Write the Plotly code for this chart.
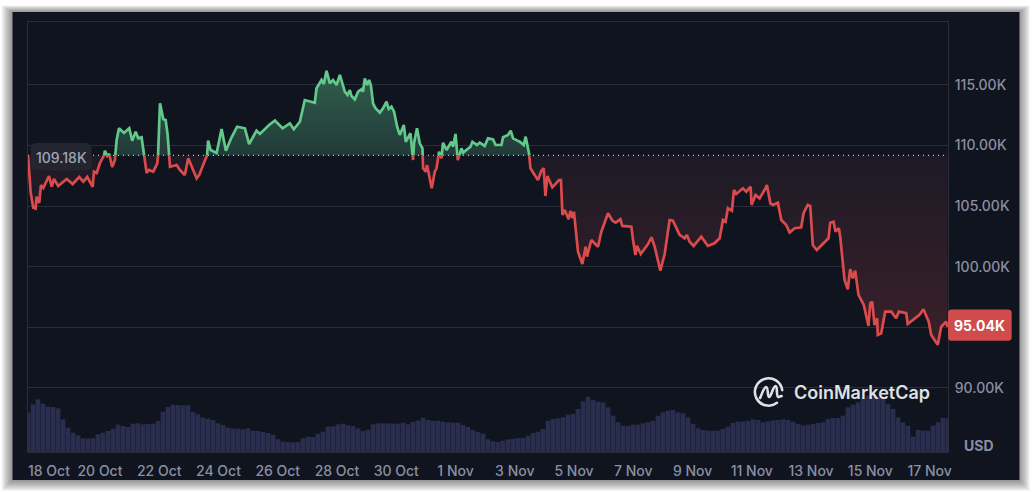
import base64
import pandas as pd
import plotly.graph_objects as go

# ---------- data ----------
start_time = "2025-10-17 13:42"
base_price = 109.18
last_price = 95.04
price_hours = [0,2.2,4.3,6.2,7,9.1,10.5,12.4,17,19.2,21,24.5,31.3,36.2,41.5,44.8,48,52.4,53.4,55.6,58.3,61.5,62.3,64.2,65.8,68.2,70.4,71.8,73.7,77.7,82,84.4,87.2,89.3,92,96.1,98,101.4,104.7,105.2,106.9,109.6,111.5,113.1,115,120.4,123,127,129.8,136.6,138.7,142.5,145.1,145.9,147.9,152.8,156.8,160.3,164.9,169.4,175.7,179.1,185.1,187.8,195.3,200,206.2,212.1,215.3,220.2,224.2,232.3,233.7,237.8,239.6,241.8,244.5,247.1,249.9,252.6,254.4,256.6,258.8,260.7,262,264.7,267.4,270.2,271.4,272.8,274.7,276.3,277.7,279.5,281.5,285,287.6,290.4,292.2,294.4,296.5,299,301.1,304.4,306,309.8,311.9,312.7,315.1,317.3,319.5,320,322.2,323.2,327,329.5,330.9,333,334.9,336.2,339,343,344.3,346.3,348.1,351.1,352.4,358.4,360,363.7,365.9,369.9,372.6,376.7,378.8,383.5,384.8,388.8,391,392.9,396.4,398.3,401.5,403.1,405.8,407,410.4,413.1,415.8,417.7,419.1,420.7,424.7,430.1,431.7,432.9,434.7,437.9,439.3,441.2,442.2,445.5,449,451.7,452.8,456.3,461.7,464.4,469.8,473.3,476,479.8,481.4,488.7,490.1,492,493.3,496.3,502.2,505,507.6,512.2,515.7,519.7,522.4,527.8,531.9,533.7,535.9,539.1,545.4,550.7,556.1,560.2,562.9,565,566.9,570.2,571.8,573.7,579.1,581.8,585.3,586.1,589.3,592.6,597.4,598.5,601.3,603.4,607.4,610.2,614.2,616.9,621,626.3,628.2,631.6,633.6,635.7,638.9,646.5,648.4,649.8,652.5,654.1,656.8,657.9,661.4,664,666,668.1,670,672.7,677,680.8,682.2,683.8,685.7,687.8,688.3,691.1,694.3,699.2,703.2,705.4,711.3,712.6,716.7,722.1,725.3,729.6,731.6,736.9,739.7,743.7,744.8]
price_k = [109.18,106.08,104.87,104.79,105.78,105.26,106.74,106.49,107.48,106.6,107.24,106.66,107.24,106.82,107.4,107.01,107.4,106.58,107.84,107.73,108.56,109.13,109.57,109.13,109.3,108.23,108.8,110.45,111.42,111.03,111.42,110.4,111.14,110.59,110.68,107.73,107.98,107.84,108.53,108.8,113.48,112.16,112.1,110.87,108.25,108.39,107.98,107.57,108.94,107.29,107.57,108.56,109.22,110.4,109.63,109.38,111.36,109.57,110.68,111.55,111.42,110.12,111.22,110.95,111.69,112.05,111.42,111.83,111.34,111.96,113.75,113.53,114.72,115.4,115.07,116.17,115.13,115.4,114.99,115.82,115.13,114.44,114.17,114.58,114.08,113.81,114.44,114.64,114.44,115.54,114.99,115.4,114.99,113.48,113.07,112.71,113.07,113.61,113.01,113.2,112.79,111.55,110.87,111.69,110.31,111.01,108.8,110.21,111.42,110.18,109.77,108.12,107.84,108.39,106.47,107.84,108.12,109.49,108.94,110.23,109.63,110.31,109.9,110.95,108.8,109.77,109.41,109.9,110.31,110.04,110.23,109.96,110.59,110.51,110.04,110.04,110.68,110.87,111.22,110.59,110.4,110.31,110.04,110.73,109.36,108.12,107.57,107.15,107.92,108.12,105.83,107.48,106.55,107.15,107.15,104.27,104.68,103.91,104.6,104.02,104.54,101.24,100.22,101.65,100.83,102.2,101.65,102.89,104.41,103.8,103.63,103.91,103.36,103.3,102.2,100.97,101.73,101.05,101.87,102.43,101.65,99.67,101.05,103.85,103.8,102.62,102.34,102.62,102.06,101.71,102.48,101.71,101.93,102.34,103.85,103.71,104.82,104.62,106.33,106,106.47,106.19,106.6,105.09,105.92,105.64,106.47,106.74,105.23,105.09,105.28,103.85,103.44,102.81,103.17,103.25,104.41,105.09,105.01,101.79,101.38,102.2,102.34,103.63,103.71,102.89,103.17,102.48,98.9,98.14,99.79,99.04,99.67,97.67,96.84,95.11,96.98,97.11,95.19,95.74,94.37,94.51,96.29,96.29,95.74,96.29,96.16,95.27,95.6,96.02,96.49,95.46,94.37,93.55,95.05,95.46,95.04]
volume = [59,71.5,79,72.5,68,67.5,65.5,49,36.5,29,25,20.5,20,20.5,26.5,29,31.5,35,41,39,37.5,42.5,43,41.5,42,42.5,46.5,60.5,67.5,71,70.5,70,70,60,56.5,51.5,50,48,43,40.5,36.5,35,35,34,35.5,31.5,31.5,30,28.5,25.5,19,15.5,15,14.5,15,20.5,22.5,22.5,27.5,30.5,38,38.5,41.5,42.5,40,39,35.5,31.5,33.5,41.5,43,43,43,42.5,42.5,44,41.5,45,47,51.5,48,46.5,47,45.5,44.5,44,44,40.5,37.5,33,30,27.5,19,16,15,17,19,20,
          21,21,24.5,28.5,30.5,34.5,47,49.5,50.5,52,56,57,64.5,76,83,78,75.5,74.5,67,54.5,44.5,39.5,39,41,41,43,44.5,47,54.5,59.5,62,63,59.5,58,52,42,35.5,33,32,32,32,34.5,38,43.5,45.5,46,47,49,48,44.5,46,47.5,48,49,48,45.5,42,40,41,42,43.5,44.5,49.5,51,51,54.5,67,71,74.5,81,84.5,83,83,79.5,72,64.5,52,44.5,39.5,23,33,32,32,39.5,44.5,51,51]
x_tick_dates = ["2025-10-18 06:40","2025-10-20","2025-10-22","2025-10-24","2025-10-26","2025-10-28","2025-10-30","2025-11-01","2025-11-03","2025-11-05","2025-11-07","2025-11-09","2025-11-11","2025-11-13","2025-11-15","2025-11-17"]
x_tick_labels = ["18 Oct","20 Oct","22 Oct","24 Oct","26 Oct","28 Oct","30 Oct","1 Nov","3 Nov","5 Nov","7 Nov","9 Nov","11 Nov","13 Nov","15 Nov","17 Nov"]
y_tick_vals = [90,95,100,105,110,115]
y_tick_labels = ["90.00K","","100.00K","105.00K","110.00K","115.00K"]

# ---------- styling ----------
W, H = 1032, 493
L, R, T, B = 27.5, 84, 22, 41
PANEL = "#10141f"
GRID = "#292d39"
TICK = "#8a8fa3"
GREEN = "#62c98b"
RED = "#db4b4d"
FONT = "Inter"

def X(px):
    return (px - L) / (W - L - R)

def Y(py):
    return 1 - (py - T) / (H - T - B)

def round_rect(x0, y0, x1, y1, r):
    a, b, c, d = X(x0), Y(y0), X(x1), Y(y1)
    rx, ry = r / (W - L - R), r / (H - T - B)
    return (f"M{a+rx},{b} L{c-rx},{b} Q{c},{b} {c},{b-ry} L{c},{d+ry} Q{c},{d} {c-rx},{d} "
            f"L{a+rx},{d} Q{a},{d} {a},{d+ry} L{a},{b-ry} Q{a},{b} {a+rx},{b} Z")

# split the price line where it crosses the opening price
t0 = pd.Timestamp(start_time)
hours, prices = [price_hours[0]], [price_k[0]]
for i in range(1, len(price_k)):
    p0, p1 = price_k[i - 1], price_k[i]
    h0, h1 = price_hours[i - 1], price_hours[i]
    if (p0 - base_price) * (p1 - base_price) < 0:
        hours.append(h0 + (base_price - p0) / (p1 - p0) * (h1 - h0))
        prices.append(base_price)
    hours.append(h1)
    prices.append(p1)
times = [t0 + pd.Timedelta(hours=h) for h in hours]
up_line = [p if p >= base_price else None for p in prices]
down_line = [p if p <= base_price else None for p in prices]
up_fill = [max(p, base_price) for p in prices]
down_fill = [min(p, base_price) for p in prices]
base_line = [base_price] * len(times)
vol_times = pd.date_range(t0, periods=len(volume), freq="243min")

fig = go.Figure()
fig.add_trace(go.Bar(x=vol_times, y=volume, yaxis="y2", marker=dict(color="#292d4e", line=dict(width=0)), hoverinfo="skip"))
for fill, scale, s0, s1 in [
    (up_fill, [[0, "#315f4b"], [1, "#213a39"]], 116.2, base_price),
    (down_fill, [[0, "#1d1a26"], [1, "#3a2029"]], base_price, 93.5),
]:
    fig.add_trace(go.Scatter(x=times, y=base_line, mode="lines", line=dict(width=0, color="rgba(0,0,0,0)"), hoverinfo="skip"))
    fig.add_trace(go.Scatter(x=times, y=fill, mode="lines", line=dict(width=0, color="rgba(0,0,0,0)"), fill="tonexty",
                             fillgradient=dict(type="vertical", colorscale=scale, start=s0, stop=s1), hoverinfo="skip"))
fig.add_trace(go.Scatter(x=[times[0], times[-1]], y=[base_price, base_price], mode="lines",
                         line=dict(color="#c3c6cf", width=1.2, dash="1px,4px"), hoverinfo="skip"))
fig.add_trace(go.Scatter(x=times, y=up_line, mode="lines", line=dict(color=GREEN, width=2.7), connectgaps=False))
fig.add_trace(go.Scatter(x=times, y=down_line, mode="lines", line=dict(color=RED, width=2.7), connectgaps=False))

# panel, its soft shadow, and the two price pills
shapes = []
for k in range(11, 0, -1):
    shapes.append(dict(type="rect", xref="paper", yref="paper", layer="below", line_width=0,
                       x0=X(12 - k), x1=X(1019 + k), y0=Y(12 - k * 0.6), y1=Y(480 + k),
                       fillcolor="rgba(0,0,0,0.045)"))
shapes.append(dict(type="rect", xref="paper", yref="paper", layer="below", line_width=0,
                   x0=X(12), x1=X(1019.5), y0=Y(12), y1=Y(480), fillcolor=PANEL))
shapes.append(dict(type="path", xref="paper", yref="paper", layer="above", line_width=0,
                   path=round_rect(30, 143, 91, 170.5, 6), fillcolor="#23252f"))
shapes.append(dict(type="path", xref="paper", yref="paper", layer="above", line_width=0,
                   path=round_rect(948, 309.5, 1011.7, 340.7, 3.5), fillcolor="#d04b4b"))

annotations = [
    dict(text="109.18K", x=X(61), y=Y(157), font=dict(size=14, color="#a0a5b5", family=FONT, weight=500)),
    dict(text=f"{last_price:.2f}K", x=X(980), y=Y(325.5), font=dict(size=14, color="#ffffff", family=FONT, weight=700)),
    dict(text="USD", x=X(979), y=Y(445.5), font=dict(size=14, color=TICK, family=FONT, weight=700)),
    dict(text="CoinMarketCap", x=X(792.5), y=Y(392.5), xanchor="left",
         font=dict(size=18, color="#dfe1e7", family=FONT, weight=600)),
]
for a in annotations:
    a.update(xref="paper", yref="paper", showarrow=False, borderpad=0, yanchor="middle")
    a.setdefault("xanchor", "center")

logo_svg = ('<svg xmlns="http://www.w3.org/2000/svg" width="32" height="32" viewBox="0 0 32 32">'
            '<g fill="none" stroke="#dfe1e7" stroke-width="2.6" stroke-linecap="round" stroke-linejoin="round">'
            '<path d="M29.6 14.2 A13.7 13.7 0 1 0 24.4 26.8"/>'
            '<path d="M7.5 22 C10 16 11.5 11 13.5 11 C16 11 14.5 21 16.5 21 C18.5 21 20.5 10 23 10 C25.5 10 23 21 26 21 L29 20"/>'
            '</g></svg>')
logo = "data:image/svg+xml;base64," + base64.b64encode(logo_svg.encode()).decode()

fig.update_layout(
    width=W, height=H, autosize=False,
    margin=dict(l=L, r=R, t=T, b=B, pad=0),
    paper_bgcolor="#ffffff", plot_bgcolor="rgba(0,0,0,0)",
    showlegend=False, bargap=0.06,
    font=dict(family=FONT, color=TICK, size=14),
    shapes=shapes, annotations=annotations,
    images=[dict(source=logo, xref="paper", yref="paper", x=X(752.5), y=Y(376), sizex=32 / (W - L - R), sizey=32 / (H - T - B),
                 xanchor="left", yanchor="top", sizing="stretch", layer="above")],
    xaxis=dict(type="date", range=[t0, t0 + pd.Timedelta(hours=745.2)], tickmode="array", tickvals=x_tick_dates,
               ticktext=x_tick_labels, showgrid=False, zeroline=False, showline=True, mirror=True, linecolor=GRID, linewidth=1,
               ticks="outside", ticklen=6, tickcolor="rgba(0,0,0,0)",
               tickfont=dict(size=14, color=TICK, family=FONT, weight=500)),
    yaxis=dict(side="right", range=[84.71, 120.19], tickmode="array", tickvals=y_tick_vals, ticktext=y_tick_labels,
               showgrid=True, gridcolor=GRID, gridwidth=1, zeroline=False, showline=True, mirror=True, linecolor=GRID, linewidth=1,
               ticks="outside", ticklen=3, tickcolor="rgba(0,0,0,0)",
               tickfont=dict(size=14, color=TICK, family=FONT, weight=500)),
    yaxis2=dict(overlaying="y", side="right", range=[0, 645], showgrid=False, zeroline=False, showticklabels=False, showline=False),
)

fig.write_html("out.html", config=dict(displayModeBar=False),
               post_script="document.body.style.margin='0';document.body.style.overflow='hidden';")
